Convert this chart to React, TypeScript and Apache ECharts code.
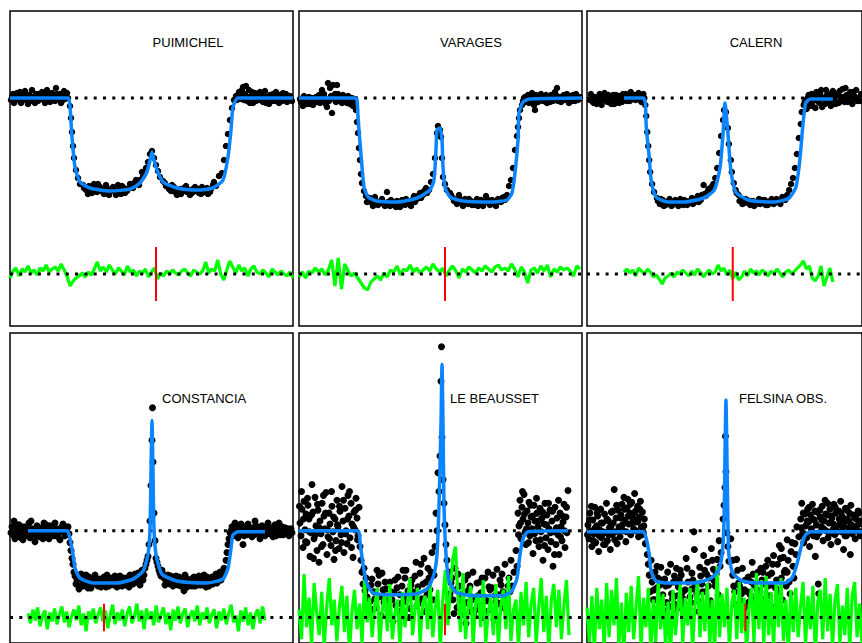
import React, { useEffect, useRef } from "react";
import * as echarts from "echarts";

// ---------- labels ----------
const STATIONS = ["PUIMICHEL", "VARAGES", "CALERN", "CONSTANCIA", "LE BEAUSSET", "FELSINA OBS."];

// ---------- fitted light curves (channel, relative flux %) ----------
const FIT_PUIMICHEL = [[0,100],[58,100],[60,91],[62,61],[65,31],[70,16],[80,10],[100,7],[120,9],[130,15],[137,26],[140,38],[142,46],[144,38],[147,28],[153,16],[167,10],[187,8],[203,10],[213,18],[218,41],[221,68],[223,91],[228,100],[283,100]];
const FIT_VARAGES = [[0,100],[56,100],[58,98],[59,81],[61,55],[63,31],[65,11],[69,1],[78,-3],[98,-4],[118,0],[131,8],[135,18],[137,48],[138,68],[141,70],[143,58],[144,31],[146,11],[151,1],[164,-3],[191,-4],[208,-2],[213,5],[216,25],[219,58],[220,85],[224,96],[231,99],[283,100]];
const FIT_CALERN = [[38,100],[58,100],[60,95],[61,71],[64,41],[66,18],[71,1],[83,-4],[100,-4],[120,0],[131,8],[137,31],[140,65],[142,95],[145,65],[148,28],[153,6],[166,-2],[193,-4],[208,0],[215,11],[219,38],[222,71],[225,95],[230,99],[253,99]];
const FIT_CONSTANCIA = [[18,100],[57,100],[60,92],[63,76],[65,62],[70,52],[83,47],[107,47],[123,51],[133,59],[138,76],[140,102],[141,159],[142,212],[143,159],[144,102],[146,76],[152,56],[167,49],[197,47],[213,51],[218,62],[221,82],[223,96],[228,99],[255,99]];
const FIT_BEAUSSET = [[0,100],[59,100],[61,89],[64,66],[68,46],[74,37],[91,35],[118,36],[129,42],[135,56],[138,76],[140,126],[142,209],[143,269],[144,209],[145,126],[147,76],[150,49],[158,37],[178,34],[204,34],[213,39],[218,52],[221,76],[224,92],[229,99],[269,100]];
const FIT_FELSINA = [[0,99],[58,99],[61,92],[64,76],[66,59],[71,49],[83,47],[110,47],[126,51],[135,59],[139,76],[141,109],[142,176],[143,233],[144,176],[145,109],[146,76],[150,57],[160,49],[180,47],[203,47],[211,52],[216,66],[221,86],[225,96],[230,99],[283,99]];

// ---------- observed points ----------
const DOTS_PUIMICHEL = [[1,98],[3,104],[4,95],[6,101],[8,99],[10,106],[12,97],[14,103],[16,100],[18,94],[20,102],[22,108],[24,99],[26,104],[28,97],[30,101],[32,106],[34,98],[36,103],[38,100],[40,96],[42,105],[44,101],[46,110],[48,99],[50,104],[52,97],[54,107],[56,102],[58,100],[60,92],[61,80],[62,66],[63,52],[64,40],[66,28],[68,20],[70,14],[73,13],[76,8],[79,12],[82,5],[85,9],[88,14],[91,7],[94,4],[97,10],[100,6],[103,11],[106,3],[109,8],[112,12],[115,5],[118,9],[121,11],[124,15],[127,14],[130,18],[133,22],[136,30],[138,36],[140,44],[142,47],[144,40],[146,33],[148,27],[150,21],[153,17],[156,12],[159,9],[162,13],[165,6],[168,8],[171,4],[174,10],[177,6],[180,3],[183,9],[186,7],[189,5],[192,11],[195,6],[198,4],[201,9],[204,16],[206,12],[209,22],[212,25],[214,38],[216,52],[218,64],[220,78],[222,90],[224,98],[226,102],[229,106],[231,99],[233,111],[235,104],[237,97],[239,108],[241,102],[243,95],[245,105],[247,100],[249,98],[251,103],[253,96],[255,107],[257,101],[259,94],[261,99],[263,104],[265,97],[267,102],[269,95],[271,100],[273,105],[275,98],[277,96],[279,101],[281,99]];
const DOTS_PUIMICHEL_2 = [[2,101],[5,97],[7,105],[9,100],[11,95],[13,102],[15,107],[17,98],[19,103],[21,97],[23,101],[25,95],[27,100],[29,104],[31,99],[33,102],[35,95],[37,108],[39,103],[41,99],[43,102],[45,97],[47,104],[49,101],[51,95],[53,103],[55,99],[57,105],[74,10],[78,4],[81,9],[84,14],[87,6],[90,11],[93,8],[96,13],[99,3],[102,9],[105,7],[108,13],[111,4],[114,10],[117,7],[120,14],[123,10],[126,18],[129,13],[132,26],[155,15],[158,11],[161,7],[164,11],[167,3],[170,9],[173,7],[176,12],[179,8],[182,5],[185,11],[188,9],[191,4],[194,8],[197,10],[200,6],[203,13],[227,98],[230,103],[232,108],[234,98],[236,112],[238,101],[240,95],[242,106],[244,100],[246,97],[248,103],[250,106],[252,99],[254,102],[256,95],[258,100],[260,103],[262,97],[264,100],[266,106],[268,99],[270,103],[272,97],[274,101],[276,104],[278,98],[280,102],[282,97]];
const DOTS_VARAGES = [[2,96],[4,92],[6,99],[8,94],[10,101],[12,97],[14,93],[16,100],[18,96],[20,103],[22,98],[23,108],[25,104],[27,94],[28,91],[29,115],[31,110],[33,85],[34,113],[36,104],[38,113],[40,101],[42,97],[44,103],[46,99],[48,95],[50,101],[52,97],[54,92],[56,99],[57,88],[58,76],[59,65],[60,50],[61,38],[62,24],[63,15],[65,7],[67,2],[70,-2],[73,-5],[76,1],[79,-7],[82,-3],[85,-6],[88,6],[91,-8],[94,-4],[97,-9],[100,-6],[103,-2],[106,-7],[109,-3],[112,-8],[115,2],[118,-1],[121,5],[124,3],[127,10],[130,8],[132,16],[134,24],[136,40],[138,65],[139,72],[141,68],[142,61],[143,40],[144,21],[146,14],[148,8],[151,5],[154,0],[157,-2],[160,3],[163,-5],[166,-1],[169,-6],[172,-3],[175,-7],[178,-1],[181,-4],[184,-8],[187,2],[190,-5],[193,-2],[196,-6],[199,-1],[202,-4],[205,1],[208,3],[210,12],[212,18],[214,30],[216,48],[218,62],[219,71],[220,80],[221,88],[223,93],[225,100],[227,96],[229,103],[231,99],[233,105],[235,93],[236,88],[238,101],[240,98],[242,104],[244,97],[246,101],[248,95],[250,99],[252,103],[254,97],[256,106],[258,110],[260,100],[262,96],[264,102],[266,98],[268,104],[270,95],[272,100],[274,103],[276,97],[278,101],[280,99]];
const DOTS_VARAGES_2 = [[1,99],[3,97],[5,102],[7,95],[9,98],[11,94],[13,100],[15,97],[17,101],[19,99],[21,95],[24,102],[26,99],[30,97],[32,102],[35,99],[37,96],[39,104],[41,99],[43,95],[45,101],[47,97],[49,102],[51,94],[53,100],[55,96],[68,-4],[71,0],[74,-8],[77,-3],[80,-6],[83,-1],[86,-8],[89,-4],[92,-2],[95,-7],[98,-3],[101,-9],[104,-4],[107,-1],[110,-6],[113,-2],[116,-4],[119,2],[122,0],[125,7],[128,5],[152,3],[155,-3],[158,-6],[161,-1],[164,-8],[167,-3],[170,-1],[173,-7],[176,-4],[179,-8],[182,-2],[185,-5],[188,-1],[191,-7],[194,-3],[197,-8],[200,-3],[203,0],[206,-2],[224,97],[226,101],[228,99],[230,95],[232,101],[234,98],[237,103],[239,96],[241,100],[243,102],[245,97],[247,103],[249,100],[251,96],[253,101],[255,99],[257,103],[259,97],[261,101],[263,99],[265,103],[267,100],[269,98],[271,102],[273,97],[275,100],[277,104],[279,98],[281,101]];
const DOTS_CALERN = [[3,98],[5,102],[7,95],[9,100],[11,97],[13,104],[15,93],[17,99],[19,102],[21,96],[23,100],[25,94],[27,103],[29,98],[31,101],[33,95],[35,99],[37,104],[39,100],[41,97],[43,102],[45,106],[47,99],[49,103],[51,101],[53,105],[55,98],[57,102],[59,100],[60,93],[61,82],[62,66],[63,52],[64,38],[65,26],[67,14],[69,6],[72,0],[75,-6],[78,-2],[81,-7],[84,-3],[87,-8],[90,-4],[93,-6],[96,-1],[99,-7],[102,-3],[105,-5],[108,0],[111,-4],[114,2],[117,-2],[120,13],[121,4],[124,6],[127,9],[130,14],[132,20],[134,30],[136,45],[138,62],[140,78],[141,88],[143,86],[145,70],[146,54],[148,38],[149,26],[151,15],[153,8],[156,3],[159,-1],[162,-5],[165,-2],[168,-7],[171,-3],[174,-6],[177,-1],[180,-5],[183,-2],[186,-7],[189,-3],[192,-6],[195,-1],[198,-4],[201,1],[204,-2],[206,3],[208,8],[210,14],[212,20],[214,30],[216,44],[218,60],[220,74],[221,86],[223,93],[225,98],[226,89],[228,103],[230,95],[232,92],[234,100],[236,106],[238,97],[240,104],[242,91],[244,99],[246,108],[248,102],[250,96],[252,105],[254,100],[256,94],[258,103],[260,107],[262,98],[264,101],[266,110],[268,96],[270,103],[272,99],[274,106],[276,101],[278,97]];
const DOTS_CALERN_2 = [[4,104],[6,96],[8,101],[10,94],[12,99],[14,102],[16,97],[18,105],[20,99],[22,103],[24,97],[26,100],[28,94],[30,103],[32,99],[34,102],[36,96],[38,101],[40,104],[42,99],[44,97],[46,103],[48,100],[50,98],[52,103],[54,100],[56,96],[58,104],[73,-3],[76,-1],[79,-8],[82,-5],[85,-1],[88,-6],[91,-2],[94,-8],[97,-4],[100,-2],[103,-7],[106,-3],[109,-6],[112,-1],[115,-4],[118,3],[122,2],[125,9],[128,11],[154,5],[157,-3],[160,-6],[163,-1],[166,-5],[169,-3],[172,-8],[175,-4],[178,-6],[181,-2],[184,-7],[187,-4],[190,-1],[193,-5],[196,-3],[199,-6],[202,-1],[205,1],[224,96],[227,100],[229,92],[231,104],[233,97],[235,90],[237,102],[239,95],[241,108],[243,100],[245,94],[247,103],[249,99],[251,92],[253,107],[255,98],[257,104],[259,95],[261,101],[263,109],[265,96],[267,103],[269,99],[271,106],[273,94],[275,102],[277,108],[279,100],[281,97],[282,104]];
const DOTS_CONSTANCIA = [[2,104],[3,96],[4,110],[5,92],[7,101],[8,97],[9,106],[11,93],[12,100],[14,104],[15,95],[17,99],[19,108],[20,93],[22,102],[24,97],[25,89],[27,105],[29,100],[30,94],[32,103],[34,108],[35,97],[37,101],[39,92],[40,105],[42,99],[44,95],[45,108],[47,102],[49,98],[50,91],[52,104],[54,100],[55,95],[57,103],[59,97],[60,88],[61,80],[62,72],[63,66],[64,58],[65,54],[66,46],[68,53],[70,44],[72,50],[74,47],[76,55],[78,42],[80,49],[82,45],[84,52],[86,48],[88,44],[90,51],[92,47],[94,53],[96,43],[98,49],[100,46],[102,52],[104,45],[106,50],[108,47],[110,54],[112,44],[114,49],[116,52],[118,46],[120,55],[122,48],[124,53],[126,50],[128,57],[130,45],[132,60],[134,55],[136,66],[138,74],[139,86],[140,110],[141,146],[142,192],[142.5,225],[143,170],[144,118],[145,90],[146,72],[148,64],[150,57],[152,60],[154,52],[156,49],[158,55],[160,46],[162,51],[164,48],[166,54],[168,45],[170,50],[172,47],[174,39],[176,52],[178,46],[180,50],[182,44],[184,53],[186,48],[188,45],[190,51],[192,47],[194,55],[196,43],[198,50],[200,46],[202,53],[204,48],[206,56],[208,50],[210,58],[212,54],[214,62],[216,70],[217,78],[218,86],[219,92],[220,98],[222,104],[223,95],[225,108],[227,100],[228,93],[230,104],[232,98],[233,86],[235,102],[237,96],[238,107],[240,100],[242,94],[243,103],[245,110],[247,97],[248,101],[250,92],[252,105],[253,99],[255,95],[257,103],[258,108],[260,97],[262,101],[263,94],[265,106],[267,99],[268,103],[270,96],[272,104],[274,100],[276,97],[278,102],[280,99]];
const DOTS_CONSTANCIA_2 = [[1,98],[6,106],[10,99],[13,91],[16,103],[18,97],[21,110],[23,99],[26,95],[28,103],[31,98],[33,92],[36,106],[38,100],[41,96],[43,103],[46,98],[48,94],[51,101],[53,107],[56,99],[58,104],[67,50],[69,41],[71,56],[73,44],[75,50],[77,46],[79,53],[81,42],[83,49],[85,55],[87,46],[89,50],[91,43],[93,51],[95,47],[97,55],[99,44],[101,50],[103,48],[105,54],[107,43],[109,50],[111,47],[113,52],[115,45],[117,50],[119,43],[121,51],[123,46],[125,56],[127,48],[129,52],[131,58],[133,50],[135,62],[137,70],[147,68],[149,60],[151,54],[153,56],[155,45],[157,51],[159,48],[161,54],[163,44],[165,50],[167,47],[169,53],[171,44],[173,49],[175,55],[177,43],[179,50],[181,47],[183,52],[185,44],[187,50],[189,54],[191,45],[193,51],[195,48],[197,53],[199,44],[201,50],[203,46],[205,52],[207,47],[209,55],[211,50],[213,58],[221,100],[224,96],[226,103],[229,99],[231,107],[234,95],[236,104],[239,98],[241,101],[244,96],[246,105],[249,100],[251,96],[254,103],[256,99],[259,104],[261,97],[264,102],[266,95],[269,108],[271,100],[273,96],[275,103],[277,99],[279,95],[281,102],[282,98]];
const DOTS_BEAUSSET = [[1,108],[2,95],[3,122],[4,83],[5,130],[6,101],[7,117],[8,88],[9,126],[10,112],[11,74],[12,98],[13,147],[14,119],[15,92],[16,134],[17,105],[18,80],[19,121],[20,68],[21,110],[22,97],[23,128],[24,86],[25,115],[26,102],[27,139],[28,76],[29,94],[30,118],[31,107],[32,85],[33,125],[34,99],[35,71],[36,112],[37,90],[38,131],[39,104],[40,82],[41,120],[42,96],[43,145],[44,110],[45,78],[46,123],[47,100],[48,87],[49,136],[50,115],[51,93],[52,128],[53,107],[54,73],[55,119],[56,101],[57,133],[58,113],[59,95],[60,124],[61,84],[62,70],[63,58],[64,46],[65,62],[66,39],[67,52],[68,33],[70,44],[71,28],[73,51],[75,38],[77,22],[79,46],[81,33],[83,57],[85,27],[87,41],[89,19],[91,48],[93,30],[95,37],[97,24],[99,53],[101,35],[103,44],[105,28],[107,60],[109,39],[111,21],[113,50],[115,33],[117,68],[119,43],[121,57],[123,31],[125,72],[127,48],[129,62],[131,40],[133,78],[135,55],[136,84],[137,118],[138,100],[139,159],[140,140],[141,176],[142,252],[142.5,287],[143,195],[144,152],[145,128],[146,106],[147,86],[148,70],[150,58],[152,47],[154,30],[156,62],[158,22],[160,44],[162,35],[164,15],[166,50],[168,27],[170,40],[172,18],[174,58],[176,32],[178,47],[180,24],[182,37],[184,12],[186,52],[188,29],[190,43],[192,20],[194,55],[196,34],[198,61],[200,26],[202,45],[204,38],[206,66],[208,31],[210,52],[212,70],[213,44],[215,58],[217,80],[218,64],[219,118],[220,105],[221,131],[222,92],[223,124],[224,112],[225,137],[226,98],[227,86],[228,120],[229,108],[230,129],[231,95],[232,114],[233,102],[234,77],[235,126],[236,110],[237,90],[238,118],[239,104],[240,84],[241,123],[242,99],[243,113],[244,70],[245,107],[246,128],[247,93],[248,116],[249,81],[250,102],[251,121],[252,89],[253,110],[254,64],[255,99],[256,124],[257,86],[258,113],[259,96],[260,76],[261,118],[262,104],[263,90],[264,109],[265,127],[266,83],[267,114],[268,98],[269,141]];
const DOTS_BEAUSSET_2 = [[0.5,125],[2.5,140],[4.5,112],[6.5,89],[8.5,133],[10.5,99],[12.5,116],[14.5,72],[16.5,96],[18.5,127],[20.5,103],[22.5,84],[24.5,136],[26.5,118],[28.5,101],[30.5,92],[32.5,140],[34.5,114],[36.5,80],[38.5,106],[40.5,125],[42.5,88],[44.5,131],[46.5,97],[48.5,112],[50.5,140],[52.5,83],[54.5,104],[56.5,121],[58.5,91],[72,45],[76,31],[80,55],[84,40],[88,26],[92,38],[96,50],[100,18],[104,60],[108,33],[112,45],[116,54],[120,27],[124,46],[128,35],[132,58],[153,52],[157,40],[161,26],[165,38],[169,55],[173,30],[177,20],[181,48],[185,33],[189,58],[193,42],[197,28],[201,50],[205,22],[209,44],[219.5,96],[221.5,108],[223.5,140],[225.5,117],[227.5,102],[229.5,88],[231.5,126],[233.5,115],[235.5,97],[237.5,133],[239.5,110],[241.5,91],[243.5,119],[245.5,85],[247.5,106],[249.5,128],[251.5,98],[253.5,120],[255.5,76],[257.5,103],[259.5,131],[261.5,94],[263.5,115],[265.5,100],[267.5,124]];
const DOTS_BEAUSSET_3 = [[74,20],[78,60],[82,14],[86,48],[90,30],[94,8],[98,42],[102,26],[106,52],[110,12],[114,38],[118,24],[122,66],[126,18],[130,52],[134,30],[151,36],[155,16],[159,56],[163,28],[167,6],[171,44],[175,14],[179,34],[183,52],[187,18],[191,40],[195,10],[199,35],[203,56],[207,20],[211,38]];
const DOTS_FELSINA = [[1,106],[2,92],[3,118],[4,100],[5,84],[6,111],[7,97],[8,124],[9,88],[10,105],[11,115],[12,79],[13,101],[14,122],[15,93],[16,108],[17,86],[18,117],[19,98],[20,128],[21,90],[22,110],[23,103],[24,81],[25,119],[26,96],[27,108],[28,142],[29,99],[30,113],[31,87],[32,121],[33,104],[34,94],[35,116],[36,127],[37,100],[38,134],[39,111],[40,89],[41,123],[42,132],[43,107],[44,118],[45,96],[46,129],[47,113],[48,102],[49,138],[50,120],[51,109],[52,125],[53,94],[54,114],[55,130],[56,104],[57,119],[58,98],[59,112],[60,87],[62,76],[63,66],[64,55],[65,38],[66,70],[67,48],[68,30],[70,58],[72,42],[74,22],[76,63],[78,35],[80,51],[82,27],[84,45],[86,66],[88,31],[90,54],[92,20],[94,43],[96,60],[98,37],[100,25],[102,72],[104,48],[106,33],[108,57],[110,99],[110.5,81],[112,41],[114,29],[116,63],[118,46],[120,75],[122,38],[124,68],[126,52],[128,82],[130,61],[132,44],[134,71],[136,90],[138,78],[140,112],[141,126],[142,144],[142.5,196],[143,160],[144,98],[145,84],[146,69],[148,92],[150,55],[152,38],[154,71],[156,47],[158,29],[160,62],[162,40],[164,24],[166,53],[168,35],[170,68],[172,45],[174,27],[176,58],[178,38],[180,50],[182,30],[184,64],[186,44],[188,34],[190,57],[192,75],[194,42],[196,66],[198,85],[200,52],[202,73],[204,60],[206,91],[208,48],[210,79],[212,64],[214,87],[216,104],[218,94],[220,112],[221,128],[222,98],[223,88],[224,117],[225,105],[226,93],[227,122],[228,109],[229,84],[230,116],[231,102],[232,127],[233,95],[234,111],[235,74],[236,106],[237,119],[238,46],[238.5,36],[239,98],[240,114],[241,104],[242,125],[243,90],[244,110],[245,131],[246,100],[247,116],[248,93],[249,108],[250,122],[251,86],[252,113],[253,101],[254,127],[255,96],[256,118],[257,104],[258,89],[259,120],[260,107],[261,130],[262,99],[263,114],[264,81],[265,109],[266,123],[267,95],[268,112],[269,103],[270,118],[271,76],[272,106],[273,97],[274,116],[275,102],[276,92],[277,112],[278,100],[279,120],[280,107],[281,95],[282,110]];
const DOTS_FELSINA_2 = [[0.5,96],[2.5,111],[4.5,125],[6.5,90],[8.5,103],[10.5,118],[12.5,95],[14.5,108],[16.5,99],[18.5,86],[20.5,112],[22.5,96],[24.5,104],[26.5,120],[28.5,91],[30.5,126],[32.5,100],[34.5,113],[36.5,106],[38.5,122],[40.5,99],[42.5,115],[44.5,127],[46.5,108],[48.5,118],[50.5,100],[52.5,110],[54.5,122],[56.5,96],[58.5,105],[69,40],[73,52],[77,28],[81,44],[85,23],[89,48],[93,34],[97,55],[101,40],[105,21],[109,50],[113,36],[117,54],[121,60],[125,44],[129,70],[133,56],[137,64],[151,44],[155,60],[159,36],[163,50],[167,28],[171,56],[175,40],[179,62],[183,46],[187,55],[191,66],[195,50],[199,72],[203,58],[207,70],[211,88],[215,76],[220.5,103],[222.5,118],[224.5,96],[226.5,110],[228.5,124],[230.5,98],[232.5,112],[234.5,120],[236.5,94],[239.5,121],[241.5,111],[243.5,102],[245.5,117],[247.5,128],[249.5,97],[251.5,115],[253.5,107],[255.5,124],[257.5,99],[259.5,112],[261.5,118],[263.5,104],[265.5,95],[267.5,121],[269.5,110],[271.5,126],[273.5,100],[275.5,113],[277.5,105],[279.5,118],[281.5,99]];
const DOTS_FELSINA_3 = [[70,30],[72,64],[75,45],[79,19],[83,58],[87,36],[91,25],[95,50],[99,31],[103,62],[107,27],[111,47],[115,18],[119,38],[123,56],[127,29],[131,49],[135,35],[150,70],[153,25],[157,44],[161,20],[165,38],[169,48],[173,17],[177,33],[181,58],[185,26],[189,45],[193,22],[197,38],[201,30],[205,44],[209,36],[213,52],[76,50],[92,62],[108,41],[124,23],[170,30],[186,70],[200,82],[206,58]];

// ---------- residuals (observed - fit) ----------
const RESID_PUIMICHEL = [-4,3,6,-2,5,2,8,1,4,-1,6,3,9,2,5,7,3,10,4,-3,-12,-7,-4,-2,1,-3,2,-1,5,12,3,7,2,9,4,0,6,3,-1,8,2,4,-2,3,1,5,-3,2,6,-5,1,-2,3,0,4,1,-1,3,5,1,-2,4,2,0,3,12,1,5,3,14,0,-6,4,13,7,1,9,3,6,-2,5,8,2,0,4,1,-3,5,2,-1,3,0,-2,2,-4];
const RESID_VARAGES = [-3,2,-4,3,1,6,2,5,-1,4,14,-12,16,-15,10,3,-2,1,-4,-9,-14,-16,-8,-5,-2,-6,1,-3,4,2,8,-1,5,3,9,2,6,1,4,7,3,10,5,2,6,-2,4,8,3,-4,5,2,7,4,1,6,3,8,5,2,7,9,4,6,3,10,5,-3,7,2,-9,4,6,1,8,3,9,-3,5,2,7,4,6,3,-2,8,5];
const RESID_CALERN = [2,5,1,4,-2,6,3,0,5,2,-3,-1,-5,-10,-4,-2,1,-3,2,0,4,1,-2,3,-1,5,2,-3,1,4,0,2,9,3,6,-1,4,-5,2,-6,-3,3,-2,5,1,3,-1,4,2,-2,3,0,5,1,-3,2,4,0,3,6,9,13,5,8,-4,-7,-2,8,-12,-3,6,-8];
const RESID_CONSTANCIA = [4,-6,8,-3,10,-9,2,7,-12,5,-4,9,-7,3,11,-5,6,-10,1,8,-3,12,-8,4,-14,6,-2,9,-6,3,10,-4,7,-11,2,13,-7,5,-3,8,-9,4,11,-6,1,14,-4,7,-12,9,-2,6,-8,12,-5,3,10,-7,5,-13,8,-3,11,-6,4,9,-10,2,7,-4,12,-8,5,-2,10,-6,3,8,-11,6,-3,9,-7,4,13,-5,2,-14,7,-4,10,-8,5,-12,3,8,-6,11,-3];
const RESID_BEAUSSET = [8,-22,44,-10,20,-28,35,5,-18,26,-30,12,40,-8,18,-24,10,32,-15,22,-35,6,28,-12,14,-26,38,-5,20,-20,12,30,-28,8,24,-14,34,-22,4,18,-30,26,-10,15,40,-18,8,30,-25,14,22,-12,36,-20,10,28,-32,18,48,-8,30,60,72,20,-15,45,-22,10,32,-28,16,24,-10,38,-26,6,20,-18,34,-30,12,28,-12,42,-24,8,18,-30,26,-8,36,-20,14,30,-26,10,40,-15,22,-32,18,34,-10,28,-22,12,38,-18];
const RESID_FELSINA = [10,-25,22,-35,30,-12,18,-30,35,-20,28,-8,40,-28,15,-38,25,-15,32,-22,12,42,-30,20,-10,30,-35,18,-25,38,-12,24,-30,16,-40,28,-18,10,34,-26,20,-8,30,-32,14,38,-20,26,-14,35,-28,18,-36,52,-20,24,-10,30,-30,15,28,-22,36,-16,20,-34,12,30,-25,45,-12,38,-28,42,-18,26,-30,35,-10,40,-24,18,-35,28,-15,30,-20,12,36,-28,22,-12,32,-38,16,28,-22,40,-14,24,-30,18,34,-26,12,-18,30,-32,22,36,-20,14,-28];
const RESID_SPAN = [[0,283],[0,281],[38,253],[18,255],[0,270],[0,283]];

// ---------- mid-time markers (channel, extent in residual units) ----------
const MARK_X = [146, 146, 150, 94, 146, 163];
const MARK_UP = [27, 27, 27, 14, 14, 14];
const MARK_DOWN = [27, 27, 27, 14, 18, 14];

// ---------- axes ----------
const CONTINUUM = 100;
const RESID_ZERO = [-76, 12]; // per row
const Y_RANGE = [[-128, 187], [-14, 301]];
const X_MAX = 283;

const FITS = [FIT_PUIMICHEL, FIT_VARAGES, FIT_CALERN, FIT_CONSTANCIA, FIT_BEAUSSET, FIT_FELSINA];
const DOTS = [
  DOTS_PUIMICHEL.concat(DOTS_PUIMICHEL_2),
  DOTS_VARAGES.concat(DOTS_VARAGES_2),
  DOTS_CALERN.concat(DOTS_CALERN_2),
  DOTS_CONSTANCIA.concat(DOTS_CONSTANCIA_2),
  DOTS_BEAUSSET.concat(DOTS_BEAUSSET_2, DOTS_BEAUSSET_3),
  DOTS_FELSINA.concat(DOTS_FELSINA_2, DOTS_FELSINA_3),
];
const RESIDS = [RESID_PUIMICHEL, RESID_VARAGES, RESID_CALERN, RESID_CONSTANCIA, RESID_BEAUSSET, RESID_FELSINA];

// layout
const COL_LEFT = [10, 299, 587];
const ROW_TOP = [11, 333];
const PANEL_W = 283;
const PANEL_H = 315;
const TITLE_POS = [
  { x: 188, y: 42, align: "center" },
  { x: 471, y: 42, align: "center" },
  { x: 756, y: 42, align: "center" },
  { x: 162, y: 398, align: "left" },
  { x: 450, y: 398, align: "left" },
  { x: 739, y: 398, align: "left" },
];

function buildOption() {
  const grid: any[] = [];
  const xAxis: any[] = [];
  const yAxis: any[] = [];
  const series: any[] = [];
  const graphic: any[] = [];
  for (let i = 0; i < 6; i++) {
    const row = i < 3 ? 0 : 1;
    const col = i % 3;
    grid.push({
      left: COL_LEFT[col],
      top: ROW_TOP[row],
      width: PANEL_W,
      height: PANEL_H,
      show: true,
      borderColor: "#000",
      borderWidth: 1.5,
      backgroundColor: "transparent",
      containLabel: false,
    });
    xAxis.push({ type: "value", gridIndex: i, min: 0, max: X_MAX, show: false });
    yAxis.push({ type: "value", gridIndex: i, min: Y_RANGE[row][0], max: Y_RANGE[row][1], show: false });
    const zero = RESID_ZERO[row];
    const [rs, re] = RESID_SPAN[i];
    const res = RESIDS[i];
    const step = (re - rs) / (res.length - 1);
    const resData = res.map((r, k) => [rs + k * step, zero + r]);

    series.push({
      type: "scatter",
      xAxisIndex: i,
      yAxisIndex: i,
      data: DOTS[i],
      symbol: "circle",
      symbolSize: row === 0 ? 6.5 : 7,
      itemStyle: { color: "#000", opacity: 1 },
      z: 1,
      silent: true,
    });
    series.push({
      type: "line",
      xAxisIndex: i,
      yAxisIndex: i,
      data: resData,
      showSymbol: false,
      lineStyle: { color: "#00ff00", width: 3.2 },
      z: 2,
      silent: true,
    });
    for (const yv of [CONTINUUM, zero]) {
      series.push({
        type: "line",
        xAxisIndex: i,
        yAxisIndex: i,
        data: [[0, yv], [X_MAX, yv]],
        showSymbol: false,
        lineStyle: { color: "#000", width: 3, type: [3, 6.3], cap: "butt" },
        z: 3,
        silent: true,
      });
    }
    series.push({
      type: "line",
      xAxisIndex: i,
      yAxisIndex: i,
      data: FITS[i],
      showSymbol: false,
      smooth: 0.2,
      lineStyle: { color: "#0a84ff", width: 3.5 },
      z: 4,
      silent: true,
    });
    series.push({
      type: "line",
      xAxisIndex: i,
      yAxisIndex: i,
      data: [[MARK_X[i], zero + MARK_UP[i]], [MARK_X[i], zero - MARK_DOWN[i]]],
      showSymbol: false,
      lineStyle: { color: "#ff0000", width: 2 },
      z: 5,
      silent: true,
    });
    const t = TITLE_POS[i];
    graphic.push({
      type: "text",
      x: t.x,
      y: t.y,
      z: 10,
      style: {
        text: STATIONS[i],
        fill: "#000",
        font: "13px 'Liberation Sans', Arial, sans-serif",
        textAlign: t.align,
        textVerticalAlign: "middle",
      },
    });
  }
  return { animation: false, backgroundColor: "#fff", grid, xAxis, yAxis, series, graphic };
}

export default function App() {
  const ref = useRef<HTMLDivElement>(null);
  useEffect(() => {
    if (!ref.current) return;
    const chart = echarts.init(ref.current, undefined, { renderer: "svg" });
    chart.setOption(buildOption() as any);
    return () => chart.dispose();
  }, []);
  return (
    <div
      ref={ref}
      style={{ position: "fixed", left: 0, top: 0, width: 862, height: 643, background: "#fff" }}
    />
  );
}
